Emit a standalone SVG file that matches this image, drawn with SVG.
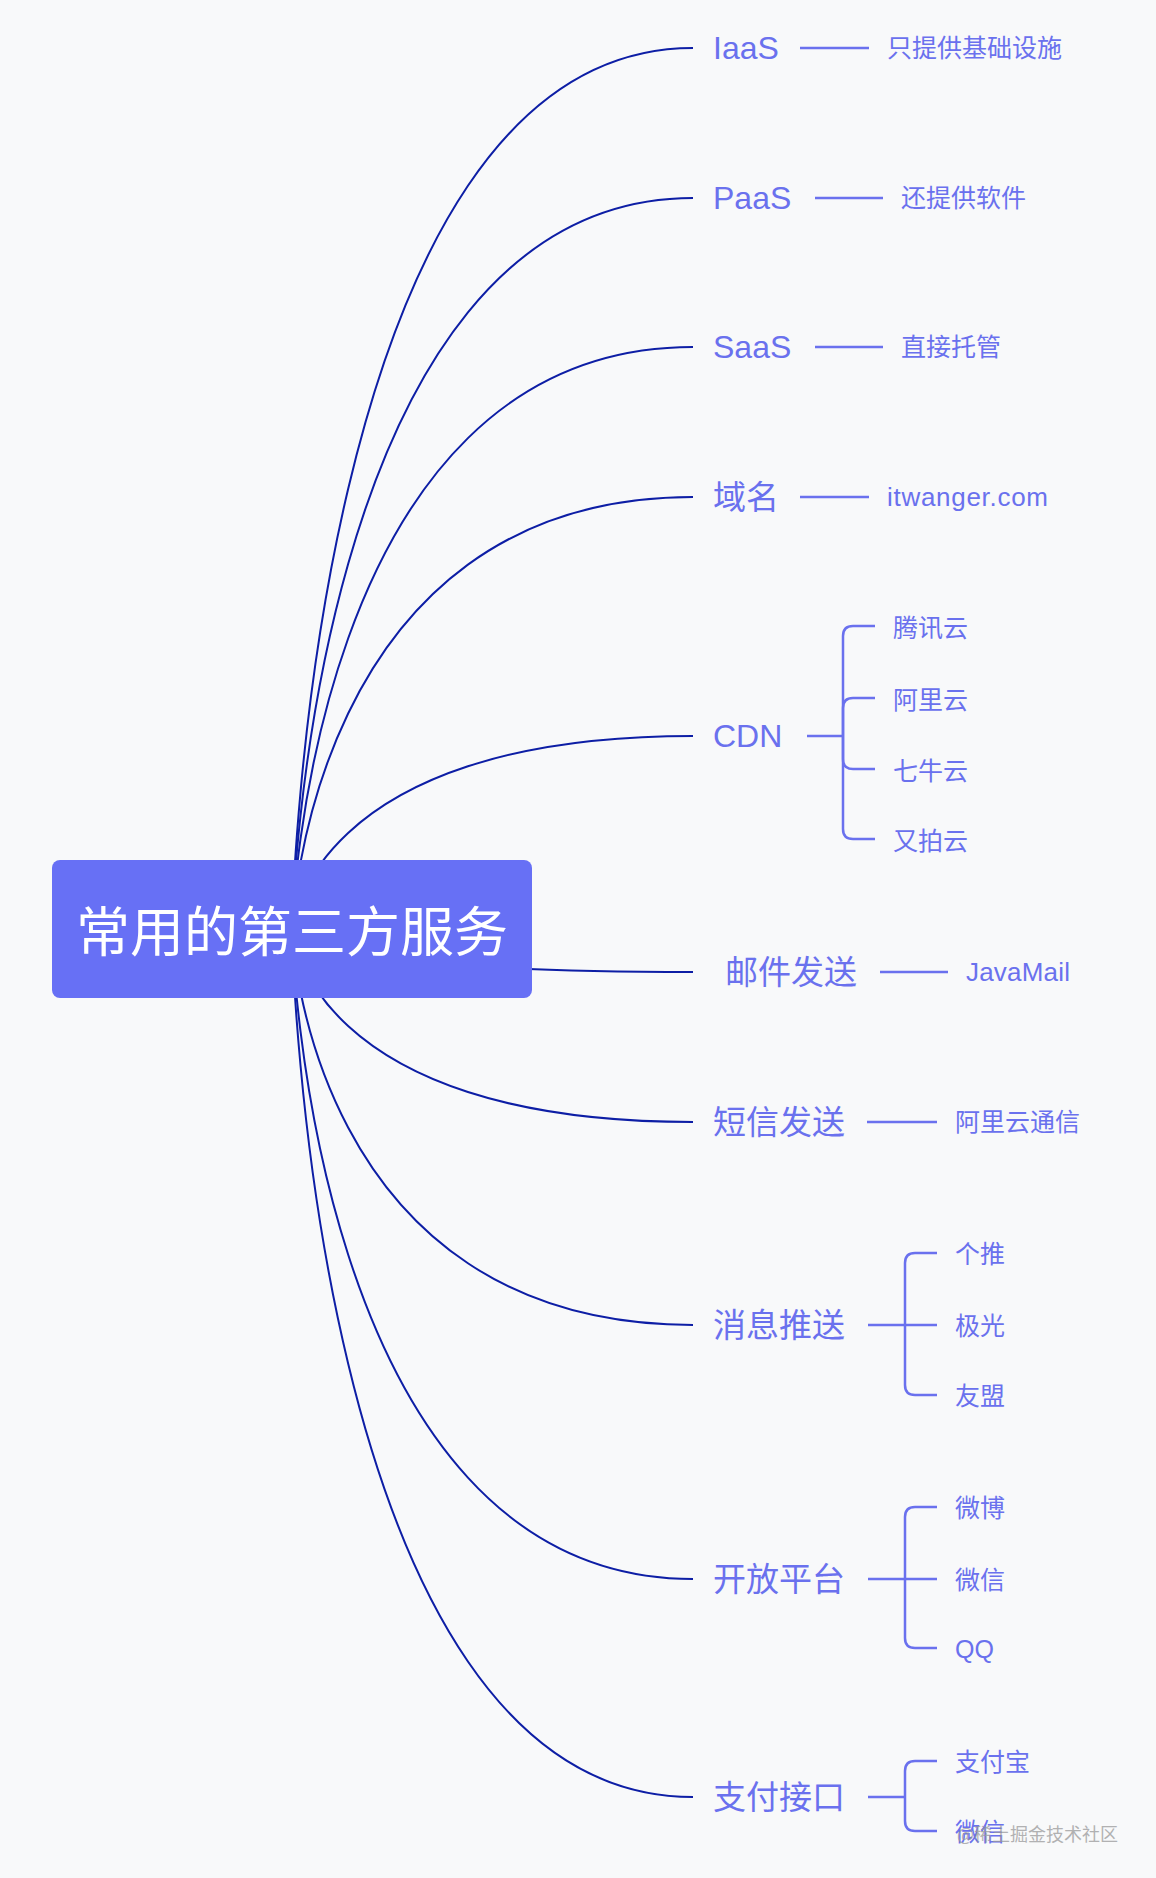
<svg xmlns="http://www.w3.org/2000/svg" width="1156" height="1878" viewBox="0 0 1156 1878">
<style>
.bg{fill:#f8f9fa}
.curve{fill:none;stroke:#0d1ea5;stroke-width:2}
.sub{fill:none;stroke:#6a71ee;stroke-width:2.5;stroke-linecap:butt}
.l1{font-family:"Liberation Sans","Noto Sans CJK SC",sans-serif;font-size:32px;fill:#6a71ee}
.l1c{font-family:"Noto Sans CJK SC","Liberation Sans",sans-serif;font-size:33px;fill:#6a71ee}
.l2{font-family:"Liberation Sans","Noto Sans CJK SC",sans-serif;font-size:25px;fill:#6a71ee}
.l2l{font-family:"Liberation Sans","Noto Sans CJK SC",sans-serif;font-size:26px;fill:#6a71ee}
.root{fill:#6770f5}
.roott{font-family:"Noto Sans CJK SC","Liberation Sans",sans-serif;font-size:54px;fill:#ffffff}
.wm{font-family:"Noto Sans CJK SC","Liberation Sans",sans-serif;font-size:18px;fill:#9a9a9a;opacity:0.75}
</style>
<rect class="bg" x="0" y="0" width="1156" height="1878"/>
<g id="connectors">
<path class="curve" d="M292 930 C292 930 308 48 693 48"/>
<path class="curve" d="M292 930 C292 930 308 198 693 198"/>
<path class="curve" d="M292 930 C292 930 308 347 693 347"/>
<path class="curve" d="M292 930 C292 930 308 497 693 497"/>
<path class="curve" d="M292 930 C292 930 308 736 693 736"/>
<path class="curve" d="M292 930 C292 930 308 972 693 972"/>
<path class="curve" d="M292 930 C292 930 308 1122 693 1122"/>
<path class="curve" d="M292 930 C292 930 308 1325 693 1325"/>
<path class="curve" d="M292 930 C292 930 308 1579 693 1579"/>
<path class="curve" d="M292 930 C292 930 308 1797 693 1797"/>
<path class="sub" d="M800 48 H869"/>
<path class="sub" d="M815 198 H883"/>
<path class="sub" d="M815 347 H883"/>
<path class="sub" d="M800 497 H869"/>
<path class="sub" d="M880 972 H948"/>
<path class="sub" d="M867 1122 H937"/>
<path class="sub" d="M807 736 H843"/>
<path class="sub" d="M843 736 V636 Q843 626 853 626 H875"/>
<path class="sub" d="M843 736 V708 Q843 698 853 698 H875"/>
<path class="sub" d="M843 736 V759 Q843 769 853 769 H875"/>
<path class="sub" d="M843 736 V829 Q843 839 853 839 H875"/>
<path class="sub" d="M868 1325 H937"/>
<path class="sub" d="M905 1325 V1263 Q905 1253 915 1253 H937"/>
<path class="sub" d="M905 1325 V1385 Q905 1395 915 1395 H937"/>
<path class="sub" d="M868 1579 H937"/>
<path class="sub" d="M905 1579 V1517 Q905 1507 915 1507 H937"/>
<path class="sub" d="M905 1579 V1638 Q905 1648 915 1648 H937"/>
<path class="sub" d="M868 1797 H905"/>
<path class="sub" d="M905 1797 V1771 Q905 1761 915 1761 H937"/>
<path class="sub" d="M905 1797 V1821 Q905 1831 915 1831 H937"/>
</g>
<g id="root">
<rect class="root" x="52" y="860" width="480" height="138" rx="8"/>
<text class="roott" x="292" y="952" text-anchor="middle">常用的第三方服务</text>
</g>
<g id="n-iaas"><text class="l1" x="713" y="59">IaaS</text></g>
<g id="n-iaas-c"><text class="l2" x="887" y="57">只提供基础设施</text></g>
<g id="n-paas"><text class="l1" x="713" y="209">PaaS</text></g>
<g id="n-paas-c"><text class="l2" x="901" y="207">还提供软件</text></g>
<g id="n-saas"><text class="l1" x="713" y="358">SaaS</text></g>
<g id="n-saas-c"><text class="l2" x="901" y="356">直接托管</text></g>
<g id="n-domain"><text class="l1c" x="713" y="509">域名</text></g>
<g id="n-domain-c"><text class="l2l" x="887" y="506" textLength="161" lengthAdjust="spacing">itwanger.com</text></g>
<g id="n-cdn"><text class="l1" x="713" y="747">CDN</text></g>
<g id="n-cdn-1"><text class="l2" x="893" y="637">腾讯云</text></g>
<g id="n-cdn-2"><text class="l2" x="893" y="709">阿里云</text></g>
<g id="n-cdn-3"><text class="l2" x="893" y="780">七牛云</text></g>
<g id="n-cdn-4"><text class="l2" x="893" y="850">又拍云</text></g>
<g id="n-mail"><text class="l1c" x="725" y="984">邮件发送</text></g>
<g id="n-mail-c"><text class="l2l" x="966" y="981" textLength="104" lengthAdjust="spacing">JavaMail</text></g>
<g id="n-sms"><text class="l1c" x="713" y="1134">短信发送</text></g>
<g id="n-sms-c"><text class="l2" x="955" y="1131">阿里云通信</text></g>
<g id="n-push"><text class="l1c" x="713" y="1337">消息推送</text></g>
<g id="n-push-1"><text class="l2" x="955" y="1263">个推</text></g>
<g id="n-push-2"><text class="l2" x="955" y="1335">极光</text></g>
<g id="n-push-3"><text class="l2" x="955" y="1405">友盟</text></g>
<g id="n-open"><text class="l1c" x="713" y="1591">开放平台</text></g>
<g id="n-open-1"><text class="l2" x="955" y="1517">微博</text></g>
<g id="n-open-2"><text class="l2" x="955" y="1589">微信</text></g>
<g id="n-open-3"><text class="l2" x="955" y="1658">QQ</text></g>
<g id="n-pay"><text class="l1c" x="713" y="1809">支付接口</text></g>
<g id="n-pay-1"><text class="l2" x="955" y="1771">支付宝</text></g>
<g id="n-pay-2"><text class="l2" x="955" y="1841">微信</text></g>
<text class="wm" x="957" y="1841">@稀土掘金技术社区</text>
</svg>
